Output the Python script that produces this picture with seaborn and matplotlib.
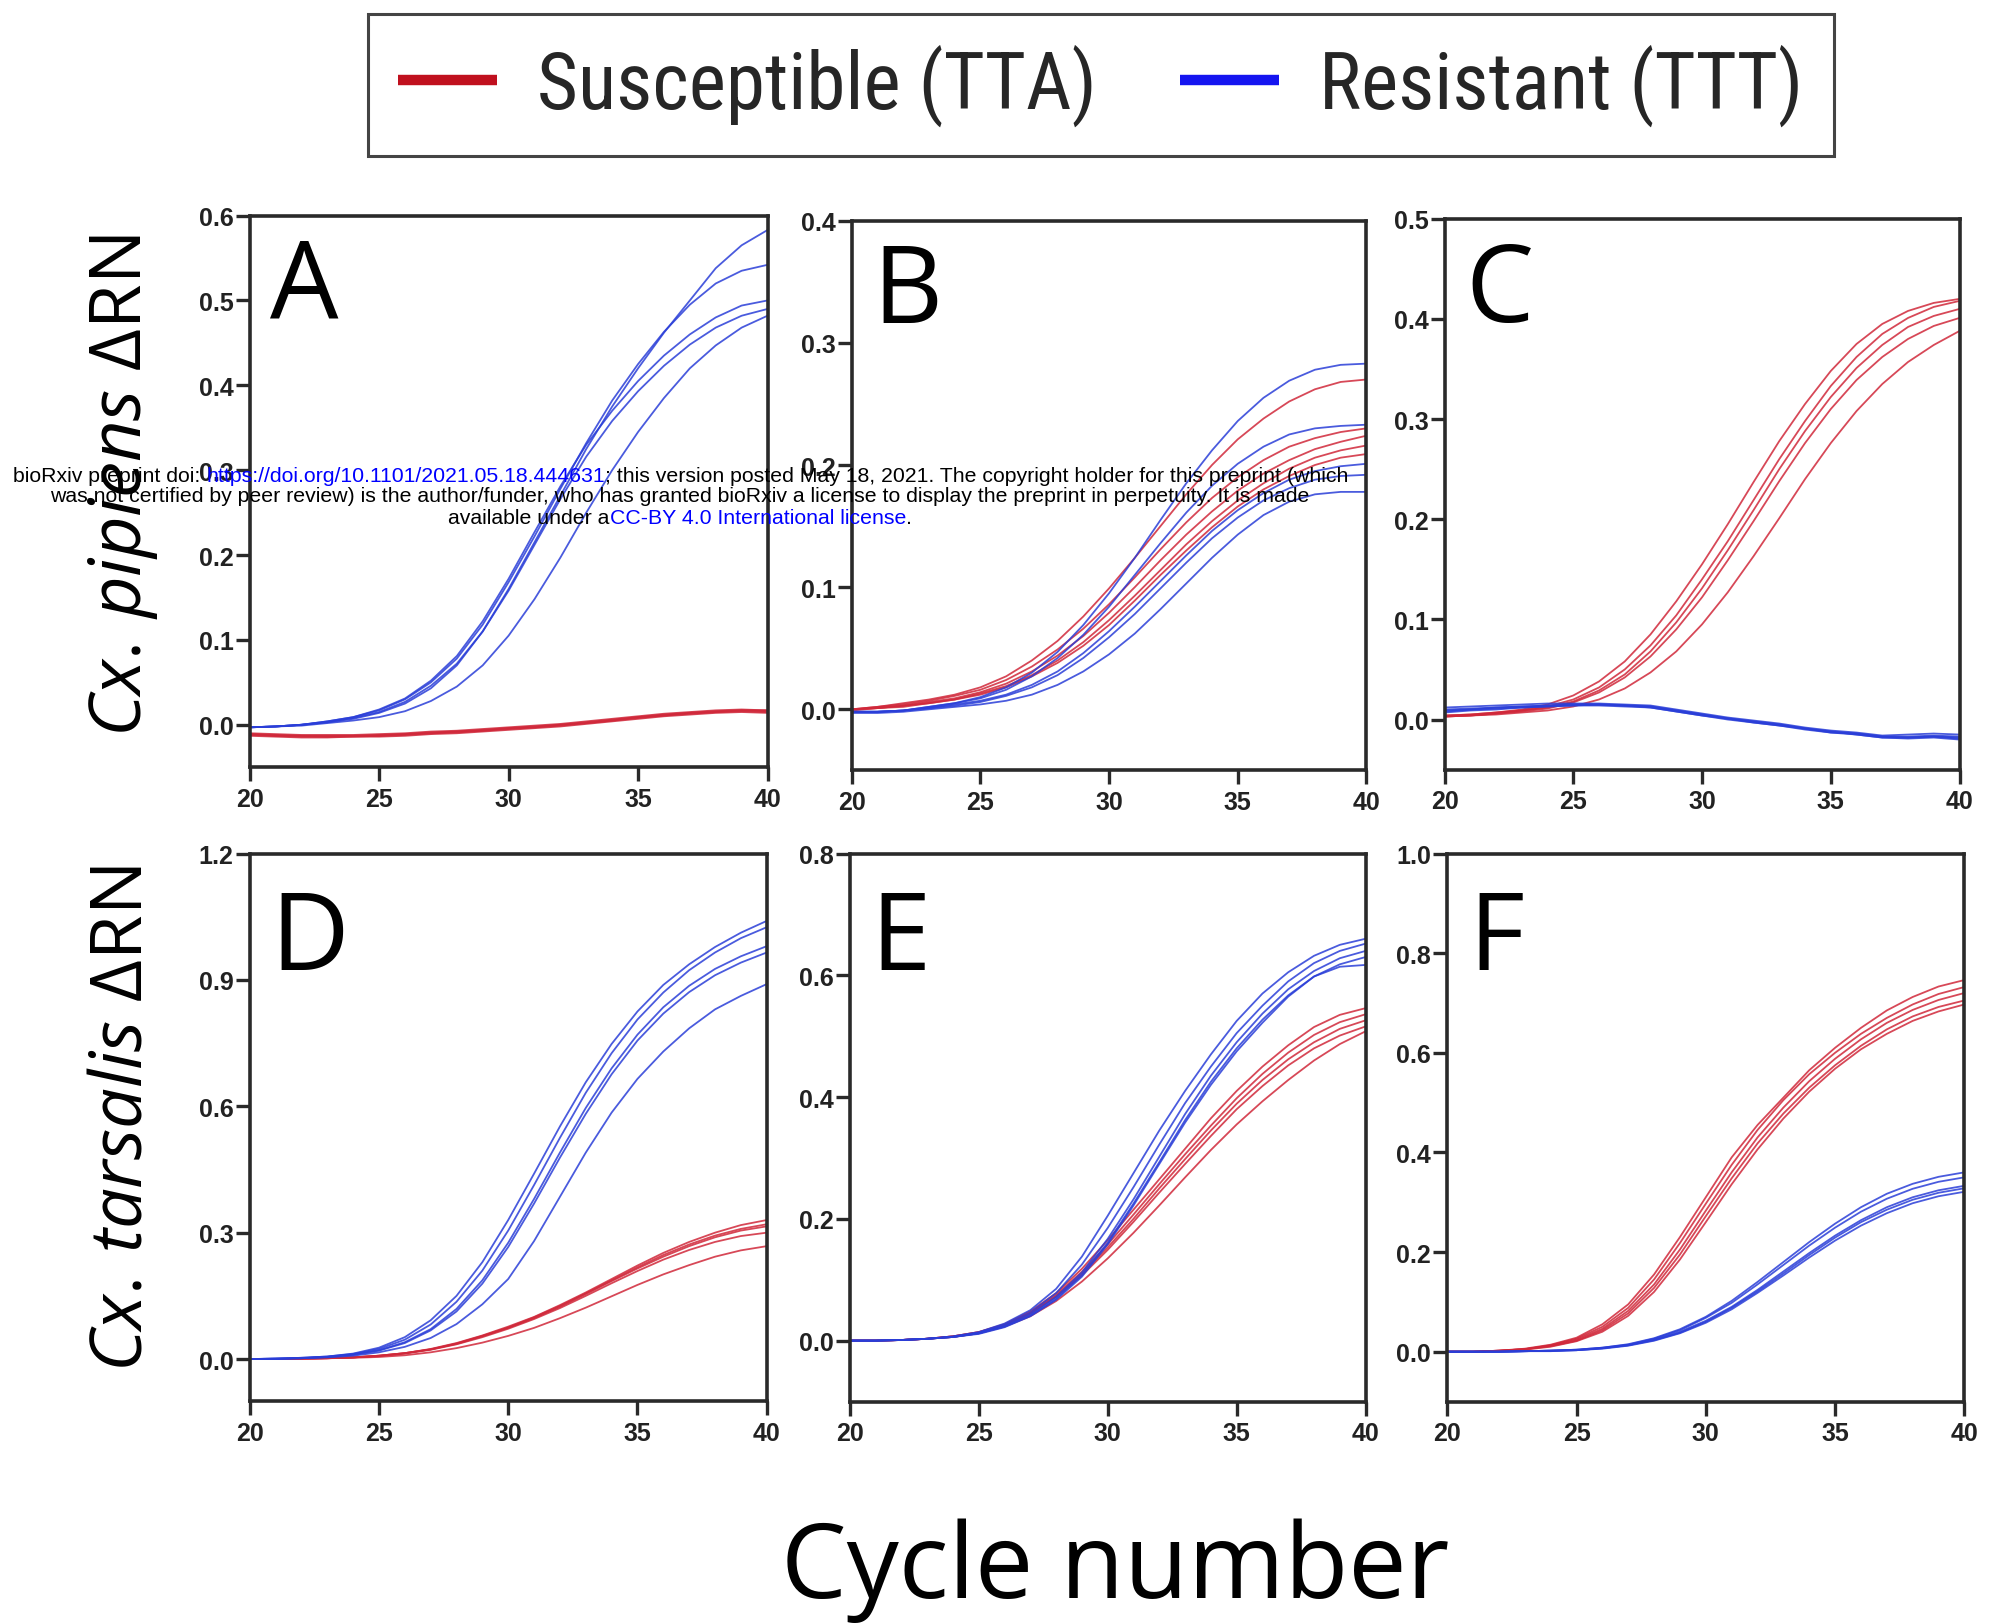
import numpy as np
import pandas as pd
import matplotlib
matplotlib.use("Agg")
import matplotlib.pyplot as plt
from matplotlib.lines import Line2D
from matplotlib import font_manager
import seaborn as sns

# ---------------- data ----------------
CYCLES = list(range(20, 41))
SUS_LABEL = "Susceptible (TTA)"
RES_LABEL = "Resistant (TTT)"
PANEL_LETTERS = ["A", "B", "C", "D", "E", "F"]
X_TICKS = [20, 25, 30, 35, 40]

# Panel A
A_SUS = [
    [-0.010,-0.011,-0.012,-0.012,-0.012,-0.011,-0.010,-0.008,-0.007,-0.005,-0.003,-0.001,0.001,0.004,0.007,0.010,0.013,0.015,0.017,0.018,0.017],
    [-0.011,-0.012,-0.013,-0.013,-0.013,-0.012,-0.011,-0.009,-0.008,-0.006,-0.004,-0.002,0.000,0.003,0.006,0.009,0.012,0.014,0.016,0.017,0.016],
    [-0.012,-0.013,-0.014,-0.014,-0.014,-0.013,-0.012,-0.010,-0.009,-0.007,-0.005,-0.003,-0.001,0.002,0.005,0.008,0.011,0.013,0.015,0.016,0.015],
    [-0.013,-0.014,-0.015,-0.015,-0.014,-0.014,-0.013,-0.011,-0.010,-0.008,-0.006,-0.004,-0.002,0.001,0.004,0.007,0.010,0.012,0.014,0.015,0.014],
    [-0.011,-0.013,-0.013,-0.014,-0.013,-0.013,-0.011,-0.010,-0.008,-0.007,-0.004,-0.003,0.000,0.002,0.005,0.009,0.011,0.014,0.015,0.017,0.017],
]
A_RES = [
    [-0.003,-0.002,0.000,0.003,0.007,0.014,0.025,0.043,0.070,0.110,0.160,0.215,0.270,0.325,0.375,0.420,0.462,0.500,0.538,0.565,0.583],
    [-0.003,-0.002,0.000,0.004,0.009,0.017,0.030,0.050,0.078,0.118,0.168,0.222,0.278,0.332,0.382,0.425,0.463,0.495,0.520,0.535,0.542],
    [-0.003,-0.002,0.000,0.004,0.009,0.018,0.031,0.052,0.081,0.122,0.172,0.227,0.281,0.330,0.370,0.405,0.435,0.460,0.480,0.494,0.500],
    [-0.003,-0.002,0.000,0.003,0.008,0.015,0.027,0.046,0.072,0.110,0.158,0.212,0.266,0.316,0.358,0.393,0.423,0.448,0.468,0.482,0.490],
    [-0.003,-0.002,-0.001,0.002,0.005,0.009,0.016,0.028,0.045,0.070,0.105,0.148,0.197,0.250,0.300,0.345,0.385,0.420,0.447,0.468,0.482],
]
# Panel B
B_SUS = [
    [0.000,0.002,0.005,0.008,0.012,0.018,0.027,0.040,0.056,0.076,0.099,0.124,0.150,0.176,0.200,0.221,0.238,0.252,0.262,0.268,0.270],
    [0.000,0.002,0.004,0.007,0.011,0.016,0.024,0.035,0.049,0.066,0.086,0.108,0.131,0.153,0.173,0.190,0.204,0.215,0.222,0.227,0.230],
    [0.000,0.001,0.003,0.006,0.009,0.014,0.021,0.031,0.044,0.060,0.079,0.100,0.122,0.143,0.162,0.179,0.193,0.204,0.213,0.219,0.224],
    [0.000,0.001,0.003,0.005,0.008,0.013,0.019,0.028,0.040,0.055,0.073,0.093,0.114,0.135,0.154,0.171,0.185,0.197,0.206,0.212,0.216],
    [-0.001,0.001,0.002,0.005,0.008,0.012,0.018,0.027,0.038,0.052,0.069,0.089,0.110,0.130,0.149,0.166,0.180,0.191,0.200,0.206,0.209],
]
B_RES = [
    [-0.002,-0.002,-0.001,0.002,0.005,0.010,0.018,0.030,0.047,0.069,0.095,0.124,0.155,0.185,0.212,0.236,0.255,0.269,0.278,0.282,0.283],
    [-0.002,-0.002,-0.001,0.002,0.005,0.009,0.016,0.027,0.042,0.061,0.084,0.110,0.136,0.161,0.183,0.201,0.215,0.225,0.230,0.232,0.233],
    [-0.002,-0.002,-0.001,0.001,0.004,0.007,0.012,0.020,0.031,0.046,0.064,0.084,0.105,0.126,0.146,0.163,0.177,0.188,0.195,0.199,0.201],
    [-0.002,-0.002,-0.001,0.001,0.003,0.006,0.011,0.018,0.028,0.042,0.059,0.078,0.099,0.120,0.140,0.157,0.171,0.181,0.188,0.191,0.192],
    [-0.003,-0.003,-0.002,0.000,0.002,0.004,0.007,0.012,0.020,0.031,0.045,0.062,0.082,0.103,0.124,0.143,0.159,0.170,0.176,0.178,0.178],
]
# Panel C
C_SUS = [
    [0.004,0.005,0.007,0.010,0.015,0.024,0.038,0.058,0.085,0.118,0.155,0.195,0.237,0.278,0.315,0.348,0.375,0.395,0.408,0.416,0.420],
    [0.004,0.005,0.007,0.009,0.013,0.020,0.032,0.050,0.074,0.104,0.140,0.178,0.219,0.260,0.298,0.333,0.362,0.385,0.401,0.412,0.418],
    [0.003,0.004,0.006,0.009,0.012,0.018,0.029,0.045,0.068,0.097,0.131,0.169,0.209,0.250,0.288,0.322,0.351,0.374,0.392,0.403,0.410],
    [0.003,0.004,0.006,0.008,0.011,0.017,0.027,0.042,0.063,0.090,0.122,0.159,0.198,0.238,0.276,0.310,0.339,0.362,0.380,0.393,0.401],
    [0.003,0.004,0.005,0.007,0.009,0.013,0.020,0.031,0.047,0.068,0.095,0.127,0.163,0.201,0.240,0.276,0.308,0.335,0.357,0.374,0.388],
]
C_RES = [
    [0.012,0.013,0.014,0.015,0.016,0.016,0.016,0.015,0.014,0.010,0.006,0.002,-0.001,-0.004,-0.008,-0.011,-0.013,-0.016,-0.015,-0.014,-0.015],
    [0.010,0.011,0.012,0.013,0.014,0.015,0.015,0.014,0.013,0.009,0.005,0.001,-0.002,-0.005,-0.009,-0.012,-0.014,-0.017,-0.017,-0.016,-0.017],
    [0.008,0.010,0.011,0.012,0.013,0.014,0.014,0.013,0.012,0.008,0.004,0.000,-0.003,-0.006,-0.010,-0.013,-0.015,-0.018,-0.018,-0.017,-0.019],
    [0.007,0.009,0.010,0.012,0.013,0.014,0.015,0.014,0.012,0.008,0.004,0.001,-0.003,-0.006,-0.009,-0.012,-0.015,-0.018,-0.019,-0.018,-0.020],
    [0.009,0.010,0.012,0.013,0.014,0.015,0.015,0.014,0.013,0.009,0.005,0.001,-0.002,-0.005,-0.009,-0.013,-0.014,-0.017,-0.018,-0.017,-0.018],
]
# Panel D
D_SUS = [
    [0.000,0.000,0.001,0.002,0.004,0.008,0.014,0.024,0.038,0.056,0.077,0.100,0.128,0.158,0.190,0.222,0.252,0.278,0.300,0.318,0.330],
    [0.000,0.000,0.001,0.002,0.004,0.008,0.014,0.023,0.036,0.054,0.074,0.097,0.124,0.154,0.185,0.215,0.243,0.268,0.289,0.305,0.315],
    [0.000,0.000,0.001,0.002,0.004,0.007,0.013,0.022,0.035,0.052,0.072,0.095,0.121,0.150,0.180,0.209,0.236,0.259,0.278,0.292,0.300],
    [0.000,0.000,0.001,0.002,0.003,0.005,0.009,0.016,0.026,0.039,0.055,0.074,0.097,0.122,0.149,0.176,0.201,0.223,0.243,0.258,0.268],
    [0.000,0.000,0.001,0.002,0.004,0.008,0.014,0.023,0.037,0.055,0.075,0.099,0.126,0.156,0.187,0.218,0.247,0.272,0.293,0.309,0.320],
]
D_RES = [
    [0.000,0.001,0.003,0.006,0.013,0.027,0.052,0.092,0.150,0.230,0.330,0.440,0.552,0.657,0.748,0.825,0.888,0.937,0.978,1.012,1.040],
    [0.000,0.001,0.003,0.006,0.012,0.024,0.046,0.082,0.136,0.210,0.305,0.413,0.525,0.632,0.726,0.806,0.870,0.923,0.965,0.999,1.025],
    [0.000,0.001,0.002,0.005,0.011,0.021,0.040,0.071,0.119,0.187,0.276,0.380,0.490,0.596,0.690,0.770,0.835,0.886,0.926,0.956,0.980],
    [0.000,0.001,0.002,0.005,0.010,0.020,0.038,0.068,0.113,0.179,0.266,0.369,0.478,0.582,0.676,0.756,0.820,0.871,0.911,0.941,0.965],
    [0.000,0.000,0.002,0.004,0.008,0.016,0.029,0.050,0.083,0.130,0.190,0.280,0.385,0.490,0.585,0.665,0.730,0.785,0.830,0.862,0.890],
]
# Panel E
E_SUS = [
    [0.000,0.000,0.001,0.003,0.007,0.014,0.027,0.048,0.078,0.118,0.165,0.215,0.265,0.315,0.365,0.410,0.450,0.485,0.515,0.535,0.546],
    [0.000,0.000,0.001,0.003,0.007,0.014,0.026,0.046,0.075,0.113,0.158,0.207,0.257,0.306,0.353,0.398,0.438,0.473,0.502,0.523,0.536],
    [0.000,0.000,0.001,0.003,0.007,0.013,0.025,0.045,0.073,0.110,0.153,0.200,0.250,0.298,0.345,0.389,0.428,0.462,0.490,0.512,0.526],
    [0.000,0.000,0.001,0.003,0.006,0.013,0.025,0.044,0.072,0.107,0.149,0.195,0.243,0.290,0.336,0.380,0.418,0.452,0.480,0.501,0.516],
    [0.000,0.000,0.001,0.003,0.006,0.012,0.023,0.040,0.065,0.097,0.135,0.177,0.222,0.268,0.313,0.355,0.393,0.428,0.460,0.487,0.508],
]
E_RES = [
    [0.000,0.000,0.001,0.003,0.007,0.014,0.028,0.050,0.085,0.138,0.205,0.275,0.345,0.410,0.470,0.525,0.570,0.605,0.632,0.650,0.660],
    [0.000,0.000,0.001,0.003,0.006,0.013,0.026,0.046,0.078,0.125,0.185,0.252,0.322,0.390,0.450,0.505,0.550,0.590,0.620,0.640,0.652],
    [0.000,0.000,0.001,0.003,0.006,0.012,0.024,0.043,0.072,0.112,0.167,0.232,0.302,0.372,0.435,0.490,0.537,0.577,0.607,0.628,0.640],
    [0.000,0.000,0.001,0.003,0.006,0.012,0.023,0.041,0.069,0.108,0.161,0.225,0.293,0.362,0.425,0.480,0.527,0.567,0.598,0.618,0.630],
    [0.000,0.000,0.001,0.003,0.006,0.011,0.022,0.040,0.067,0.105,0.158,0.222,0.290,0.358,0.420,0.475,0.522,0.565,0.598,0.614,0.617],
]
# Panel F
F_SUS = [
    [0.000,0.000,0.002,0.006,0.014,0.028,0.055,0.095,0.155,0.230,0.310,0.390,0.455,0.510,0.565,0.610,0.650,0.685,0.712,0.733,0.746],
    [0.000,0.000,0.002,0.005,0.013,0.026,0.050,0.088,0.145,0.218,0.297,0.375,0.445,0.505,0.557,0.600,0.638,0.670,0.697,0.718,0.732],
    [0.000,0.000,0.002,0.005,0.012,0.024,0.046,0.082,0.135,0.205,0.283,0.360,0.430,0.490,0.543,0.588,0.627,0.660,0.686,0.706,0.720],
    [0.000,0.000,0.002,0.005,0.011,0.022,0.043,0.077,0.128,0.195,0.272,0.348,0.418,0.478,0.530,0.575,0.614,0.647,0.673,0.692,0.705],
    [0.000,0.000,0.001,0.004,0.010,0.021,0.040,0.072,0.120,0.185,0.260,0.336,0.406,0.468,0.522,0.568,0.607,0.638,0.664,0.683,0.697],
]
F_RES = [
    [0.000,0.000,0.000,0.001,0.002,0.004,0.008,0.015,0.027,0.045,0.070,0.102,0.140,0.180,0.220,0.257,0.290,0.317,0.337,0.351,0.360],
    [0.000,0.000,0.000,0.001,0.002,0.004,0.008,0.014,0.026,0.043,0.068,0.098,0.135,0.174,0.213,0.249,0.281,0.307,0.327,0.341,0.350],
    [0.000,0.000,0.000,0.001,0.002,0.003,0.007,0.013,0.024,0.040,0.062,0.090,0.124,0.161,0.198,0.233,0.264,0.290,0.310,0.324,0.333],
    [0.000,0.000,0.000,0.001,0.002,0.003,0.007,0.013,0.023,0.038,0.060,0.088,0.121,0.157,0.194,0.229,0.260,0.285,0.305,0.319,0.328],
    [0.000,0.000,0.000,0.001,0.001,0.003,0.006,0.012,0.022,0.037,0.058,0.085,0.118,0.153,0.189,0.223,0.253,0.278,0.298,0.312,0.321],
]

Y_TICKS = {
    "A": [0.0, 0.1, 0.2, 0.3, 0.4, 0.5, 0.6],
    "B": [0.0, 0.1, 0.2, 0.3, 0.4],
    "C": [0.0, 0.1, 0.2, 0.3, 0.4, 0.5],
    "D": [0.0, 0.3, 0.6, 0.9, 1.2],
    "E": [0.0, 0.2, 0.4, 0.6, 0.8],
    "F": [0.0, 0.2, 0.4, 0.6, 0.8, 1.0],
}
Y_BOTTOM = {"A": -0.05, "B": -0.05, "C": -0.05, "D": -0.1, "E": -0.1, "F": -0.1}

PANEL_SUS = {"A": A_SUS, "B": B_SUS, "C": C_SUS, "D": D_SUS, "E": E_SUS, "F": F_SUS}
PANEL_RES = {"A": A_RES, "B": B_RES, "C": C_RES, "D": D_RES, "E": E_RES, "F": F_RES}

# ---------------- style ----------------
RED = "#d0283a"
BLUE = "#2a3ed8"
RED_LEG = "#c0101e"
BLUE_LEG = "#1414f0"
SPINE = "#2a2a2a"

sns.set_theme(style="ticks")
avail = {f.name for f in font_manager.fontManager.ttflist}


def pick(*names):
    for n in names:
        if n in avail:
            return n
    return "DejaVu Sans"


LABEL_FONT = pick("Open Sans", "Lato", "Noto Sans", "DejaVu Sans")
TICK_FONT = pick("Liberation Sans", "DejaVu Sans")
NARROW = pick("Liberation Sans Narrow", "DejaVu Sans Condensed", "Roboto Condensed", "__none__")
STAMP_FONT = pick("Liberation Sans", "DejaVu Sans")

plt.rcParams["font.family"] = [LABEL_FONT, "DejaVu Sans"]
plt.rcParams["mathtext.fontset"] = "custom"
plt.rcParams["mathtext.it"] = f"{LABEL_FONT}:italic"
plt.rcParams["mathtext.rm"] = LABEL_FONT

W, H = 1992, 1624
fig = plt.figure(figsize=(W / 100, H / 100), dpi=100)
fig.patch.set_facecolor("white")


def rect(l, r, t, b):
    return [l / W, 1 - b / H, (r - l) / W, (b - t) / H]


AX_RECTS = {
    "A": rect(249.7, 767.5, 216.6, 768.2),
    "B": rect(851.7, 1366.4, 221.7, 771.4),
    "C": rect(1444.5, 1959.5, 219.8, 770.6),
    "D": rect(249.7, 766.7, 854.5, 1402.2),
    "E": rect(849.8, 1365.6, 854.5, 1402.5),
    "F": rect(1447.2, 1964.4, 854.5, 1402.5),
}
LETTER_BASE = {"A": 0.815, "B": 0.815, "C": 0.815, "D": 0.789, "E": 0.789, "F": 0.789}

for p in PANEL_LETTERS:
    rows = []
    for i, curve in enumerate(PANEL_SUS[p]):
        for c, v in zip(CYCLES, curve):
            rows.append({"cycle": c, "dRn": v, "genotype": SUS_LABEL, "well": f"S{i}"})
    for i, curve in enumerate(PANEL_RES[p]):
        for c, v in zip(CYCLES, curve):
            rows.append({"cycle": c, "dRn": v, "genotype": RES_LABEL, "well": f"R{i}"})
    df = pd.DataFrame(rows)

    ax = fig.add_axes(AX_RECTS[p])
    sns.lineplot(data=df, x="cycle", y="dRn", hue="genotype", units="well",
                 estimator=None, hue_order=[SUS_LABEL, RES_LABEL],
                 palette={SUS_LABEL: RED, RES_LABEL: BLUE},
                 linewidth=1.3, alpha=0.85, legend=False, ax=ax)
    ax.set_xlim(20, 40)
    ax.set_ylim(Y_BOTTOM[p], Y_TICKS[p][-1])
    ax.set_xticks(X_TICKS)
    ax.set_yticks(Y_TICKS[p])
    ax.set_yticklabels([f"{t:.1f}" for t in Y_TICKS[p]])
    ax.set_xlabel("")
    ax.set_ylabel("")
    for s in ax.spines.values():
        s.set_visible(True)
        s.set_linewidth(2.6)
        s.set_color(SPINE)
    ax.tick_params(axis="both", length=10, width=2.4, color=SPINE, direction="out")
    ax.tick_params(axis="y", pad=1.5)
    ax.tick_params(axis="x", pad=4)
    for lab in ax.get_xticklabels() + ax.get_yticklabels():
        lab.set_fontfamily(TICK_FONT)
        lab.set_fontweight("bold")
        lab.set_fontsize(18)
        lab.set_color("#222222")
    ax.text(0.04, LETTER_BASE[p], p, transform=ax.transAxes, ha="left", va="baseline",
            fontsize=78, family=LABEL_FONT, color="black")

# row labels
fig.text(0.0615, 0.701, r"$\mathit{Cx.\,pipiens}$ ΔRN", rotation=90, ha="center",
         va="center", fontsize=52, color="black")
fig.text(0.0615, 0.311, r"$\mathit{Cx.\,tarsalis}$ ΔRN", rotation=90, ha="center",
         va="center", fontsize=52, color="black")
# x label
fig.text(0.56, 0.016, "Cycle number", ha="center", va="baseline", fontsize=75, color="black")

# legend
if NARROW != "__none__":
    leg_font, leg_size = NARROW, 57
else:
    leg_font, leg_size = LABEL_FONT, 48
s_px = leg_size * 100 / 72
handles = [Line2D([0], [0], color=RED_LEG, lw=7.5, solid_capstyle="butt"),
           Line2D([0], [0], color=BLUE_LEG, lw=7.5, solid_capstyle="butt")]
leg = fig.legend(handles, [SUS_LABEL, RES_LABEL], loc="center", bbox_to_anchor=(0.5525, 0.947),
                 ncol=2, frameon=True, fancybox=False, framealpha=1, edgecolor="#444444",
                 prop={"family": leg_font, "size": leg_size},
                 handlelength=99 / s_px, handletextpad=40 / s_px, columnspacing=84 / s_px,
                 borderpad=0.38, borderaxespad=0)
leg.get_frame().set_linewidth(2.2)

# bioRxiv stamp (mixed-colour lines)
renderer = fig.canvas.get_renderer()
STAMP_KW = dict(fontsize=15.3, family=STAMP_FONT)


def text_w(s):
    t = fig.text(0, 0, s, **STAMP_KW)
    w = t.get_window_extent(renderer=renderer).width
    t.remove()
    return w


def mixed_line(y_px, parts, xc_px):
    full = "".join(s for s, _ in parts)
    total = text_w(full)
    x0 = xc_px - total / 2
    ref = text_w("|")
    prefix = ""
    for s, c in parts:
        off = (text_w(prefix + "|") - ref) if prefix else 0.0
        fig.text((x0 + off) / W, 1 - y_px / H, s, color=c, ha="left", va="center",
                 zorder=10, **STAMP_KW)
        prefix += s


BLACK, LINK = "#000000", "#0000ff"
mixed_line(476, [("bioRxiv preprint doi: ", BLACK),
                 ("https://doi.org/10.1101/2021.05.18.444631", LINK),
                 ("; this version posted May 18, 2021. The copyright holder for this preprint (which", BLACK)], 681)
mixed_line(497, [("was not certified by peer review) is the author/funder, who has granted bioRxiv a license to display the preprint in perpetuity. It is made", BLACK)], 680)
mixed_line(518, [("available under a", BLACK), ("CC-BY 4.0 International license", LINK), (".", BLACK)], 680)

fig.savefig("out.png", dpi=100, facecolor="white")
